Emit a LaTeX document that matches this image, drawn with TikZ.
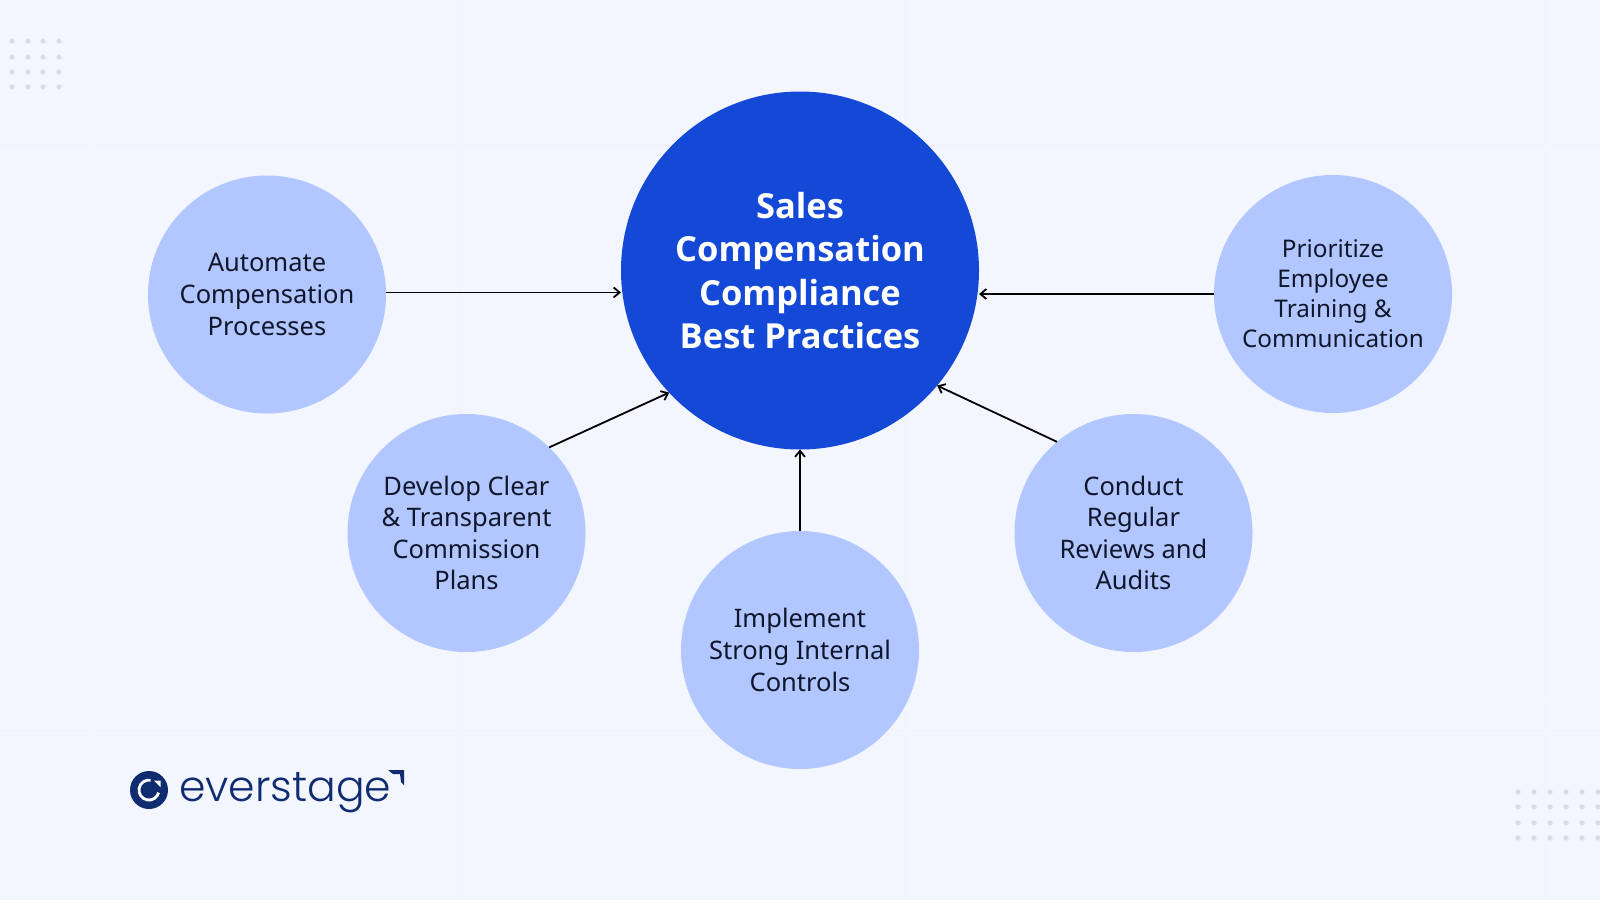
\documentclass[tikz,border=0pt]{standalone}
\usepackage{fontspec}
\setmainfont{Noto Sans}
\newfontfamily\hubfont{Open Sans}
\newfontfamily\logofont{Poppins Light}
\usetikzlibrary{arrows.meta,calc,positioning}

\definecolor{pagebg}{HTML}{F3F5FF}
\definecolor{gridline}{HTML}{F0F2FE}
\definecolor{dotgrey}{HTML}{D8DBEA}
\definecolor{mainblue}{HTML}{1349D6}
\definecolor{paleblue}{HTML}{B2C7FF}
\definecolor{logoblue}{HTML}{0F2C70}
\definecolor{inktext}{HTML}{10162B}

\tikzset{
  practice/.style={circle, fill=paleblue, draw=none, minimum size=238pt, inner sep=0pt, outer sep=0pt,
    align=center, text=inktext, font=\fontsize{25.5}{31.6}\selectfont},
  hub/.style={circle, fill=mainblue, draw=none, minimum size=358pt, inner sep=0pt, outer sep=0pt,
    align=center, text=white, font=\fontsize{34.5}{43.5}\hubfont\bfseries},
  link/.style={-{Straight Barb[length=6pt,width=10pt]}, line width=1.8pt, draw=black},
  griddot/.style={fill=dotgrey, draw=none}
}

\begin{document}
\begin{tikzpicture}[x=1pt, y=-1pt]

  \useasboundingbox [fill=pagebg] (0,0) rectangle (1600,900);

  \foreach \x in {90,460,905,1545}
    \draw [gridline, line width=1pt] (\x,0) -- (\x,900);
  \foreach \y in {145,700,730}
    \draw [gridline, line width=1pt] (0,\y) -- (1600,\y);

  \foreach \x in {12,28,43,59}
    \foreach \y in {41,57,72,87}
      \fill [griddot] (\x,\y) circle (2.6);

  \foreach \x in {1518,1534,1550,1566,1582,1598}
    \foreach \y in {792,807,823,838}
      \fill [griddot] (\x,\y) circle (2.6);

  \node [hub] (main) at (800,270.5) {Sales\\Compensation\\Compliance\\Best Practices};

  \node [practice] (automate) at (267,294.5) {Automate\\Compensation\\Processes};
  \node [practice] (develop) at (466.5,533) {Develop Clear\\\& Transparent\\Commission\\Plans};
  \node [practice] (implement) at (800,650) {Implement\\Strong Internal\\Controls};
  \node [practice] (conduct) at (1133.5,533) {Conduct\\Regular\\Reviews and\\Audits};
  \node [practice, font=\fontsize{24.3}{30}\selectfont] (prioritize) at (1333,294) {Prioritize\\Employee\\Training \&\\Communication};

  \draw [link] (automate.1) -- (automate.1 -| main.west) ;

  \draw [link] (develop.46) -- (main.223) ;

  \draw [link] (implement.north) -- (main.south) ;

  \draw [link] (conduct.130) -- (main.-40) ;

  \draw [link] (prioritize.west) -- (prioritize.west -| main.east) ;

  % logo
  \node [circle, fill=logoblue, minimum size=38pt, inner sep=0pt] (badge) at (149,790) {};
  \draw [white, line width=2.8pt] ($(badge)+(1.7,-9.8)$) arc (-80:-345:10);
  \fill [white] ($(badge)+(5,-9.5)$) -- ($(badge)+(11.5,-9.5)$) -- ($(badge)+(11.5,-3)$) -- cycle;
  \node [anchor=base west, inner sep=0pt, text=logoblue, font=\fontsize{42.5}{50}\logofont] (wordmark) at (179,801) {everstage};
  \fill [logoblue] (388,770) -- (404,770) -- (404,785) -- (401,782) -- (400,774) -- (393,774) -- cycle;

\end{tikzpicture}
\end{document}
